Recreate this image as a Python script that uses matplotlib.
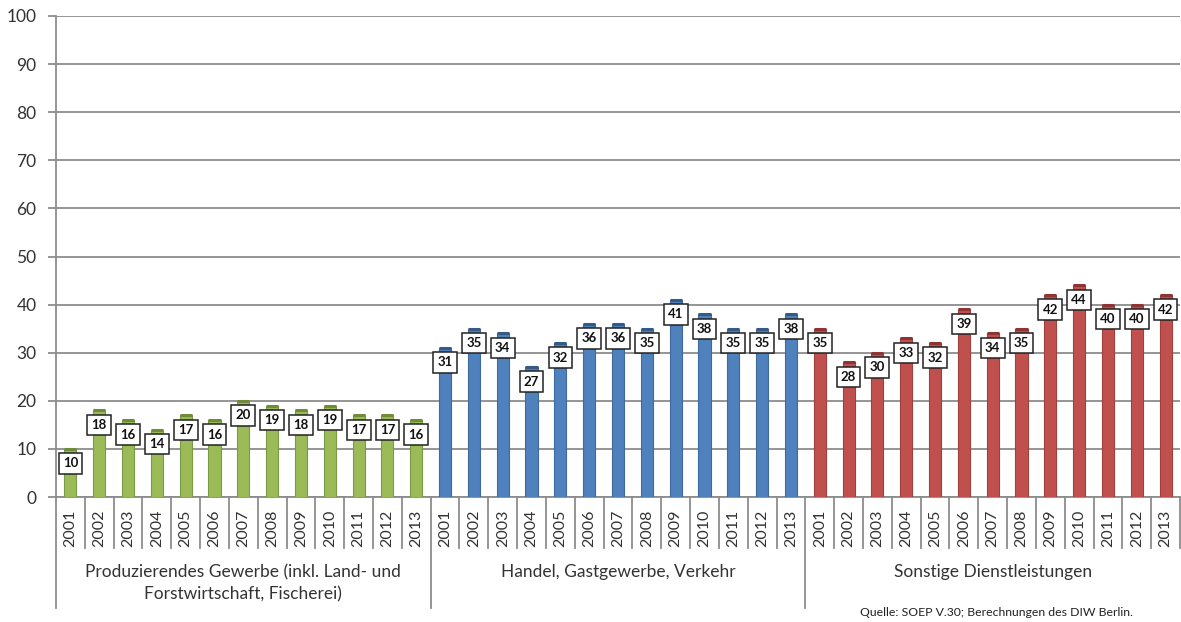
import matplotlib
matplotlib.use("Agg")
import matplotlib.pyplot as plt

years = ["2001", "2002", "2003", "2004", "2005", "2006", "2007", "2008",
         "2009", "2010", "2011", "2012", "2013"]
groups = ["Produzierendes Gewerbe (inkl. Land- und\nForstwirtschaft, Fischerei)",
          "Handel, Gastgewerbe, Verkehr",
          "Sonstige Dienstleistungen"]
produzierend = [10, 18, 16, 14, 17, 16, 20, 19, 18, 19, 17, 17, 16]
handel = [31, 35, 34, 27, 32, 36, 36, 35, 41, 38, 35, 35, 38]
sonstige = [35, 28, 30, 33, 32, 39, 34, 35, 42, 44, 40, 40, 42]
series = [produzierend, handel, sonstige]
colors = ["#9BBB59", "#4F81BD", "#C0504D"]
edge_colors = ["#7A9A45", "#3F6A9E", "#A03F3C"]
cap_colors = ["#6E8C3A", "#345A88", "#8F3432"]
yticks = [0, 10, 20, 30, 40, 50, 60, 70, 80, 90, 100]
source = "Quelle: SOEP V.30; Berechnungen des DIW Berlin."

plt.rcParams['font.family'] = ['Lato', 'DejaVu Sans']

W, H = 1181, 622
fig = plt.figure(figsize=(W / 100, H / 100), dpi=100)
left, right, top, bottom = 56, 1180, 16, 497
ax = fig.add_axes([left / W, 1 - bottom / H, (right - left) / W, (bottom - top) / H])

n = len(years)
bw = 0.42
positions = []
labels = []
for g, vals in enumerate(series):
    xs = [g * n + i for i in range(n)]
    positions += xs
    labels += years
    ax.bar(xs, vals, width=bw, color=colors[g], edgecolor=edge_colors[g],
           linewidth=0.8, zorder=3)
    ax.hlines(vals, [x - bw / 2 for x in xs], [x + bw / 2 for x in xs],
              colors=cap_colors[g], linewidth=2.2, zorder=4)
    for x, v in zip(xs, vals):
        ax.annotate(str(v), xy=(x, v), xytext=(0, -10.5), textcoords='offset points',
                    ha='center', va='center', fontsize=9.5, fontweight='bold',
                    color='#111111', zorder=5,
                    bbox=dict(boxstyle='square,pad=0.32', fc='white', ec='#222222', lw=1.1))

total = len(positions)
ax.set_xlim(-0.5, total - 0.5)
ax.set_ylim(0, 100)
ax.set_yticks(yticks)
ax.set_yticklabels([str(t) for t in yticks], fontsize=12.5, color='#333333')
ax.yaxis.grid(True, color='#8C8C8C', linewidth=1.3, zorder=0)
ax.set_axisbelow(True)
ax.tick_params(axis='y', length=6, width=1.3, color='#8C8C8C', pad=8)

ax.set_xticks(positions)
ax.set_xticklabels(labels, rotation=90, fontsize=11.5, color='#333333', va='top')
ax.tick_params(axis='x', length=0, pad=9)

for s in ['top', 'right']:
    ax.spines[s].set_visible(False)
ax.spines['left'].set_color('#8C8C8C')
ax.spines['left'].set_linewidth(1.3)
ax.spines['bottom'].set_color('#8C8C8C')
ax.spines['bottom'].set_linewidth(1.3)

trans = ax.get_xaxis_transform()
ax_h = bottom - top
short_y = -(548 - bottom) / ax_h
long_y = -(608 - bottom) / ax_h
for k in range(total + 1):
    x = k - 0.5
    yb = long_y if (k % n == 0 and k != total) else short_y
    ax.plot([x, x], [0, yb], transform=trans, color='#8C8C8C', lw=1.3,
            clip_on=False, zorder=2)

for g, name in enumerate(groups):
    cx = g * n + (n - 1) / 2
    ax.text(cx, -(564 - bottom) / ax_h, name, transform=trans, ha='center', va='top',
            fontsize=12.5, color='#333333', linespacing=1.5)

fig.text(1133 / W, 1 - 613 / H, source, ha='right', va='center', fontsize=8.8,
         color='#222222')

fig.savefig("out.png", dpi=100)
